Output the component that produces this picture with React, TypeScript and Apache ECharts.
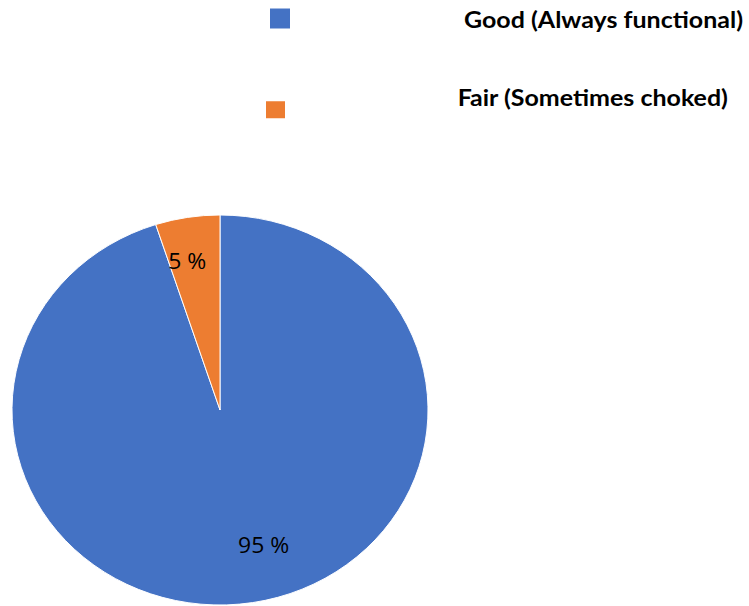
import React, { useEffect, useRef } from "react";
import * as echarts from "echarts";

const categories = ["Good (Always functional)", "Fair (Sometimes choked)"];
const values = [95, 5];
const colors = ["#4472C4", "#ED7D31"];

const SY = 0.9375; // vertical squash of the whole picture
const H = Math.round(606 / SY);

export default function App() {
  const ref = useRef<HTMLDivElement>(null);
  useEffect(() => {
    const chart = echarts.init(ref.current!, null, { renderer: "svg" });
    const legendText = (w: number) => ({
      fontFamily: "Lato, 'Open Sans', sans-serif",
      fontWeight: "bold" as const,
      fontSize: 25,
      color: "#000",
      rich: {
        t: {
          width: w,
          align: "right" as const,
          fontFamily: "Lato, 'Open Sans', sans-serif",
          fontWeight: "bold" as const,
          fontSize: 25,
          color: "#000",
        },
      },
    });
    chart.setOption({
      animation: false,
      color: colors,
      legend: [
        {
          data: [categories[0]],
          left: 268,
          top: 7,
          padding: 0,
          itemWidth: 22,
          itemHeight: 22 / SY,
          icon: "rect",
          formatter: (n: string) => "{t|" + n + "}",
          textStyle: legendText(447),
          selectedMode: false,
        },
        {
          data: [categories[1]],
          left: 264,
          top: 91,
          padding: 0,
          itemWidth: 21,
          itemHeight: 19 / SY,
          icon: "rect",
          formatter: (n: string) => "{t|" + n + "}",
          textStyle: { ...legendText(437), padding: [0, 0, 27, 0] },
          selectedMode: false,
        },
      ],
      series: [
        {
          type: "pie",
          center: [220, 410 / SY],
          radius: 208,
          startAngle: 90,
          clockwise: true,
          data: categories.map((c, i) => ({ name: c, value: values[i] })),
          itemStyle: { borderColor: "#fff", borderWidth: 1 },
          label: {
            show: true,
            position: "inside",
            formatter: (p: any) => p.value + " %",
            fontFamily: "'Open Sans', sans-serif",
            fontSize: 23,
            color: "#000",
          },
          labelLine: { show: false },
          labelLayout: (p: any) =>
            p.dataIndex === 0 ? { dx: 27, dy: 38 } : { dx: -16, dy: -53 },
          emphasis: { disabled: true },
        },
      ],
    });
    return () => chart.dispose();
  }, []);
  return (
    <div style={{ width: 749, height: 606, overflow: "hidden", position: "absolute", left: 0, top: 0 }}>
      <div
        ref={ref}
        style={{ width: 749, height: H, transform: `scaleY(${SY})`, transformOrigin: "0 0" }}
      />
    </div>
  );
}
